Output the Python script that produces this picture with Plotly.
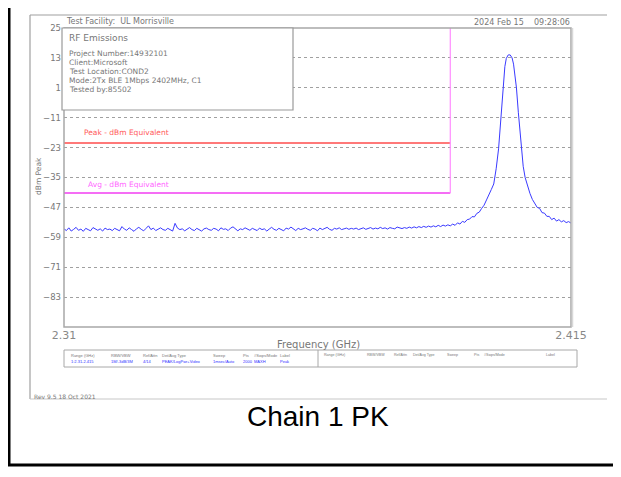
import numpy as np
import plotly.graph_objects as go

# noise floor, 2.310 .. 2.3895 GHz, 0.5 MHz steps
floor_freq = np.round(np.arange(2.310, 2.3899, 0.0005), 4)
floor_level = [
    -55.6, -56.3, -55.2, -56.5, -55.8, -55.0, -56.2, -55.7, -56.6, -55.4, -55.9, -56.4, -55.1, -55.8, -56.2, -55.6, -56.5, -55.3, -55.9, -55.7,
    -56.3, -55.4, -55.8, -56.4, -54.7, -55.7, -56.2, -55.2, -55.9, -56.6, -55.6, -55.0, -55.8, -56.4, -55.4, -54.4, -55.9, -55.3, -56.3, -55.7,
    -55.2, -55.9, -56.2, -55.4, -55.8, -56.5, -53.4, -55.3, -55.9, -55.6, -56.4, -55.7, -55.1, -55.9, -56.3, -55.4, -55.8, -56.5, -55.6, -55.3,
    -55.9, -56.2, -55.4, -55.7, -56.4, -55.2, -55.8, -55.6, -56.3, -55.3, -54.8, -55.8, -56.4, -55.6, -55.9, -55.2, -55.7, -56.2, -55.4, -55.8,
    -56.3, -55.3, -55.9, -55.6, -56.5, -55.7, -55.0, -55.8, -56.2, -55.4, -55.9, -56.4, -55.3, -55.7, -54.9, -55.8, -56.3, -55.4, -55.9, -55.6,
    -55.2, -55.8, -56.2, -55.4, -55.7, -56.4, -55.3, -55.9, -55.6, -55.0, -55.8, -56.2, -55.4, -55.7, -55.2, -55.9, -55.6, -55.3, -55.8, -55.4,
    -55.7, -55.3, -55.9, -55.6, -55.2, -55.8, -55.4, -55.1, -55.7, -55.3, -55.6, -55.0, -55.5, -55.2, -55.7, -55.1, -55.4, -55.6, -54.9, -55.3,
    -55.5, -55.1, -55.4, -54.9, -55.3, -54.8, -55.2, -54.7, -55.1, -54.6, -55.0, -54.5, -54.9, -54.4, -54.8, -54.2, -54.7, -54.1, -54.5, -54.0,
]

# carrier region 2.390 .. 2.415 GHz
peak_freq = [2.3900, 2.3905, 2.3910, 2.3915, 2.3920, 2.3925, 2.3930, 2.3935, 2.3940, 2.3945,
             2.3950, 2.3955, 2.3960, 2.3965, 2.3970, 2.3975, 2.3980, 2.3985, 2.3990, 2.3995,
             2.4000, 2.4005, 2.4010, 2.4013, 2.4016, 2.4020, 2.4024, 2.4028, 2.4031, 2.4034,
             2.4037, 2.4041, 2.4046, 2.4051, 2.4055, 2.4060, 2.4065, 2.4070, 2.4075, 2.4080,
             2.4085, 2.4090, 2.4095, 2.4100, 2.4105, 2.4110, 2.4115, 2.4120, 2.4125, 2.4130,
             2.4135, 2.4140, 2.4145, 2.4150]
peak_level = [-54.4, -53.7, -54.2, -53.2, -53.7, -52.6, -53.0, -51.9, -51.7, -50.7,
              -50.8, -49.4, -48.9, -47.4, -46.1, -44.0, -42.2, -39.8, -37.6, -31.5,
              -23.5, -9.5, 3.8, 9.5, 12.8, 14.2, 14.2, 13.0, 10.5, 6.5,
              1.0, -9.0, -21.0, -30.5, -35.0, -38.5, -41.4, -43.8, -45.2, -47.0,
              -47.4, -49.1, -49.3, -50.6, -50.6, -51.9, -51.3, -52.5, -51.9, -52.8,
              -52.3, -53.1, -52.7, -53.3]

limit_freq = [2.31, 2.39]
peak_limit = -21.2
avg_limit = -41.2
y_ticks = [25, 13, 1, -11, -23, -35, -47, -59, -71, -83]
x_ticks = [2.31, 2.415]

info_lines = ["Project Number:14932101", "Client:Microsoft", "Test Location:COND2",
              "Mode:2Tx BLE 1Mbps 2402MHz, C1", "Tested by:85502"]
tbl_head = ["Range (GHz)", "RBW/VBW", "Ref/Attn", "Det/Avg Type", "Sweep", "Pts", "#Swps/Mode", "Label"]
tbl_vals = ["1:2.31-2.415", "1M/-3dB/3M", "4/14", "PEAK/LogPwr+Video", "1msec/Auto", "2000", "MAXH", "Peak"]
tbl_x1 = [70, 110, 142, 161, 212, 242, 253, 279]
tbl_x2 = [323, 366, 393, 412, 446, 473, 483, 545]

# the page body has an 8px margin on every side; keep the figure inside the window
OFF = 8
W, H = 621 - 2 * OFF, 477 - 2 * OFF
L, R, T, B = 64, 571, 28, 327  # plot area in window pixels


def px(x):
    return (x - L) / (R - L)


def py(y):
    return (B - y) / (B - T)


GRAY = "#777777"
FONT = "DejaVu Sans"

fig = go.Figure()
trace_x = list(floor_freq) + peak_freq
trace_y = floor_level + peak_level
fig.add_trace(go.Scatter(x=trace_x, y=trace_y, mode='lines',
                         line=dict(color='#3a3aff', width=1), hoverinfo='skip'))
fig.add_trace(go.Scatter(x=limit_freq, y=[peak_limit] * 2, mode='lines',
                         line=dict(color='#ff4d4d', width=1.5)))
fig.add_trace(go.Scatter(x=limit_freq, y=[avg_limit] * 2, mode='lines',
                         line=dict(color='#f23cf2', width=1.5)))
fig.add_trace(go.Scatter(x=[limit_freq[1]] * 2, y=[avg_limit, 25], mode='lines',
                         line=dict(color='#ff8cff', width=1.2)))

shapes = [
    # outer black frame
    dict(type='line', xref='paper', yref='paper', x0=px(9), x1=px(9), y0=py(8), y1=py(465),
         line=dict(color='black', width=3)),
    dict(type='line', xref='paper', yref='paper', x0=px(8), x1=px(613), y0=py(465), y1=py(465),
         line=dict(color='black', width=3)),
    # gray page frame
    dict(type='line', xref='paper', yref='paper', x0=px(30), x1=px(607), y0=py(15), y1=py(15),
         line=dict(color='#a0a0a0', width=1.2)),
    dict(type='line', xref='paper', yref='paper', x0=px(30), x1=px(30), y0=py(15), y1=py(399),
         line=dict(color='#a0a0a0', width=1.2)),
    dict(type='line', xref='paper', yref='paper', x0=px(30), x1=px(607), y0=py(399), y1=py(399),
         line=dict(color='#c8c8c8', width=1.2)),
    # plot border
    dict(type='rect', xref='paper', yref='paper', x0=0, x1=1, y0=0, y1=1,
         line=dict(color='#a8a8a8', width=1.5)),
    dict(type='line', xref='paper', yref='paper', x0=px(572.5), x1=px(572.5), y0=0, y1=1,
         line=dict(color='#d8d8d8', width=1.5)),
    # info box
    dict(type='rect', xref='paper', yref='paper', x0=px(62), x1=px(293), y0=py(28), y1=py(110),
         line=dict(color='#9a9a9a', width=1.2), fillcolor='white', layer='above'),
    # settings table
    dict(type='rect', xref='paper', yref='paper', x0=px(64), x1=px(577), y0=py(350), y1=py(367),
         line=dict(color='#a8a8a8', width=1)),
    dict(type='line', xref='paper', yref='paper', x0=px(318), x1=px(318), y0=py(350), y1=py(367),
         line=dict(color='#a8a8a8', width=1)),
]

ann = []


def text(x, y, s, size=8, color=GRAY, xanchor='left', family=FONT, **kw):
    ann.append(dict(x=px(x), y=py(y), xref='paper', yref='paper', text=s, showarrow=False,
                    xanchor=xanchor, yanchor='middle', borderpad=0,
                    font=dict(size=size, color=color, family=family), **kw))


text(65, 21, "Test Facility:  UL Morrisville", size=8)
text(571, 22, "2024 Feb 15    09:28:06", size=8, xanchor='right')
text(68, 38, "RF Emissions", size=9)
for i, s in enumerate(info_lines):
    text(68, 53 + 9 * i, s, size=7.5)
text(83, 132, "Peak - dBm Equivalent", size=7.5, color='#ff5a5a')
text(87, 184, "Avg - dBm Equivalent", size=7.5, color='#ff66ff')
text(38, 176, "dBm Peak", size=7.5, xanchor='center', textangle=-90)
text(318, 344, "Frequency (GHz)", size=10, xanchor='center')
for x, s in zip(tbl_x1, tbl_head):
    text(x, 355, s, size=4, family='Liberation Sans')
for x, s in zip(tbl_x2, tbl_head):
    text(x, 355, s, size=3.6, family='Liberation Sans')
for x, s in zip(tbl_x1, tbl_vals):
    text(x, 361, s, size=4, color='#3030ff', family='Liberation Sans')
text(33, 396, "Rev 9.5 18 Oct 2021", size=6)
text(318, 416, "Chain 1 PK", size=28, color='black', xanchor='center', family='Liberation Sans')

fig.update_layout(
    width=W, height=H,
    margin=dict(l=L - OFF, r=(621 - OFF) - R, t=T - OFF, b=(477 - OFF) - B),
    paper_bgcolor='white', plot_bgcolor='white',
    showlegend=False,
    shapes=shapes, annotations=ann,
    xaxis=dict(range=[2.31, 2.415], tickvals=x_ticks, ticktext=['2.31', '2.415'],
               showgrid=False, zeroline=False, showline=False, ticks='',
               tickfont=dict(size=11, color='#888888', family=FONT)),
    yaxis=dict(range=[-95, 25], tickvals=y_ticks, showgrid=True, gridcolor='#a0a0a0',
               griddash='dot', gridwidth=1, zeroline=False, showline=False, ticks='',
               ticklabelstandoff=2,
               tickfont=dict(size=8.5, color='#777777', family=FONT)),
)

fig.write_html("out.html")
